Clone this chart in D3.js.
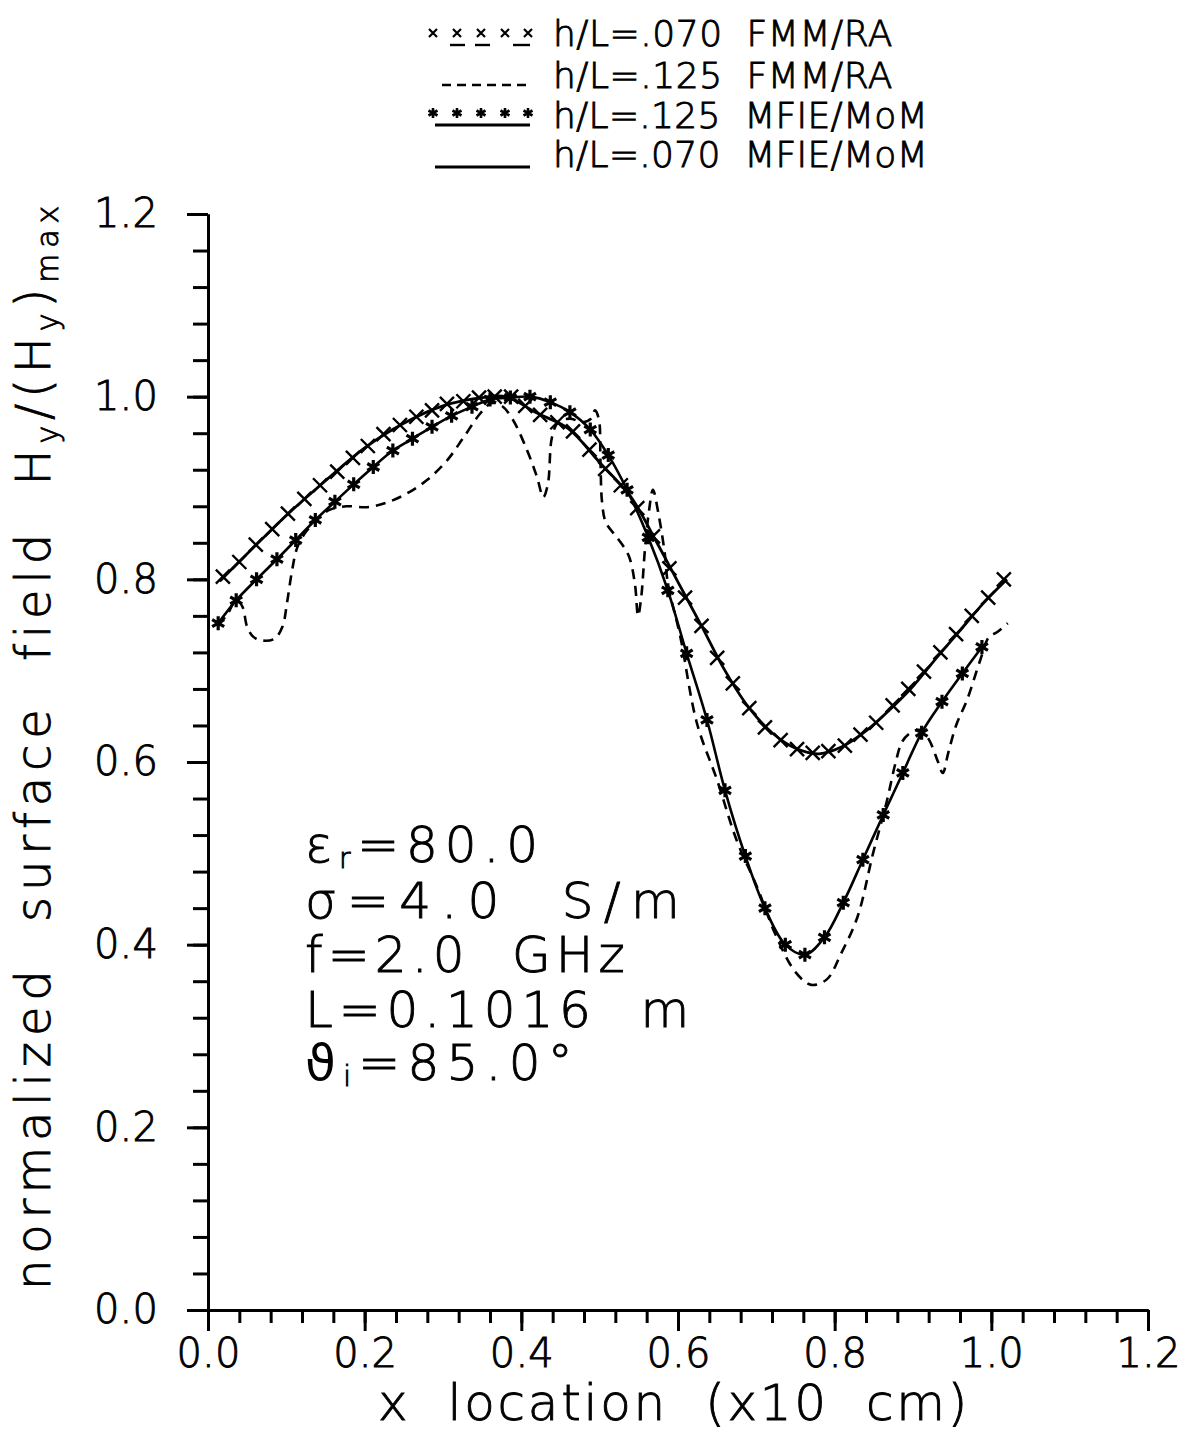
<!DOCTYPE html>
<html>
<head>
<meta charset="utf-8">
<script src="https://cdn.jsdelivr.net/npm/d3@7"></script>
<style>
body { margin: 0; background: #fff; }
text { font-family: "DejaVu Sans", sans-serif; font-weight: 200; fill: #000; stroke: #000; stroke-width: 0.9px; }
</style>
</head>
<body>
<svg id="chart" width="1184" height="1433"></svg>
<script>
// --- data ---
var xTicks = [0.0, 0.2, 0.4, 0.6, 0.8, 1.0, 1.2];
var yTicks = [0.0, 0.2, 0.4, 0.6, 0.8, 1.0, 1.2];

// h/L=.070 FMM/RA (x markers)
var fmm070 = [
    [0.019,0.803],[0.040,0.819],[0.061,0.838],[0.082,0.855],[0.102,0.872],[0.123,0.888],
    [0.143,0.903],[0.165,0.918],[0.185,0.933],[0.204,0.946],[0.224,0.959],[0.245,0.969],
    [0.266,0.978],[0.286,0.985],[0.305,0.992],[0.326,0.995],[0.346,0.999],[0.366,1.000],
    [0.387,1.000],[0.405,0.990],[0.424,0.980],[0.446,0.972],[0.466,0.962],[0.487,0.942],
    [0.507,0.921],[0.527,0.903],[0.548,0.878],[0.568,0.847],[0.589,0.812],[0.609,0.780],
    [0.630,0.749],[0.650,0.714],[0.670,0.686],[0.691,0.659],[0.711,0.638],[0.731,0.624],
    [0.752,0.614],[0.772,0.610],[0.792,0.612],[0.813,0.618],[0.833,0.630],[0.853,0.643],
    [0.874,0.662],[0.894,0.680],[0.914,0.699],[0.935,0.720],[0.955,0.740],[0.975,0.760],
    [0.996,0.780],[1.016,0.800]
];
// h/L=.070 MFIE/MoM (solid)
var mom070 = [
    [0.015,0.798],[0.050,0.828],[0.100,0.870],[0.150,0.908],[0.200,0.944],[0.250,0.971],
    [0.300,0.990],[0.350,0.999],[0.380,1.000],[0.420,0.982],[0.460,0.965],[0.500,0.928],
    [0.540,0.890],[0.570,0.845],[0.600,0.797],[0.630,0.749],[0.660,0.700],[0.690,0.660],
    [0.720,0.632],[0.750,0.615],[0.780,0.609],[0.810,0.617],[0.840,0.634],[0.870,0.657],
    [0.900,0.683],[0.930,0.714],[0.960,0.744],[0.990,0.774],[1.020,0.800]
];
// h/L=.125 MFIE/MoM (solid + asterisks)
var mom125 = [
    [0.013,0.752],[0.036,0.777],[0.062,0.800],[0.088,0.822],[0.112,0.843],[0.137,0.865],
    [0.162,0.885],[0.186,0.904],[0.211,0.923],[0.236,0.941],[0.261,0.954],[0.286,0.967],
    [0.311,0.979],[0.337,0.989],[0.360,0.997],[0.386,0.999],[0.411,1.000],[0.437,0.994],
    [0.462,0.983],[0.488,0.964],[0.511,0.936],[0.535,0.898],[0.562,0.846],[0.587,0.788],
    [0.611,0.719],[0.637,0.646],[0.660,0.569],[0.686,0.497],[0.711,0.440],[0.737,0.400],
    [0.762,0.389],[0.787,0.408],[0.811,0.446],[0.836,0.493],[0.862,0.542],[0.887,0.588],
    [0.911,0.632],[0.937,0.666],[0.963,0.697],[0.988,0.726]
];
// h/L=.125 FMM/RA (dashed)
var fmm125 = [
    [0.013,0.750],[0.025,0.762],[0.036,0.778],[0.044,0.770],[0.050,0.748],[0.058,0.737],
    [0.069,0.733],[0.085,0.735],[0.095,0.748],[0.101,0.775],[0.107,0.808],[0.114,0.835],
    [0.125,0.852],[0.140,0.866],[0.155,0.876],[0.177,0.880],[0.203,0.879],[0.228,0.884],
    [0.254,0.894],[0.280,0.909],[0.305,0.930],[0.326,0.955],[0.347,0.981],[0.362,0.993],
    [0.375,0.990],[0.389,0.975],[0.407,0.942],[0.420,0.912],[0.428,0.890],[0.434,0.905],
    [0.439,0.955],[0.447,0.972],[0.462,0.976],[0.478,0.972],[0.489,0.976],[0.494,0.985],
    [0.499,0.975],[0.501,0.930],[0.503,0.885],[0.508,0.862],[0.522,0.846],[0.537,0.826],
    [0.545,0.795],[0.549,0.760],[0.553,0.780],[0.558,0.835],[0.563,0.875],[0.568,0.898],
    [0.575,0.872],[0.583,0.829],[0.587,0.796],[0.603,0.737],[0.624,0.643],[0.650,0.580],
    [0.675,0.514],[0.701,0.463],[0.725,0.410],[0.750,0.370],[0.770,0.356],[0.790,0.362],
    [0.808,0.390],[0.829,0.430],[0.849,0.500],[0.866,0.555],[0.878,0.600],[0.886,0.622],
    [0.897,0.632],[0.909,0.635],[0.920,0.625],[0.932,0.600],[0.938,0.588],[0.945,0.610],
    [0.955,0.640],[0.969,0.668],[0.986,0.712],[0.997,0.737],[1.007,0.742],[1.021,0.752]
];

var legendRows = ['h/L=.070  FMM/RA', 'h/L=.125  FMM/RA', 'h/L=.125  MFIE/MoM', 'h/L=.070  MFIE/MoM'];

// --- drawing ---
var svg = d3.select('#chart');
var x = d3.scaleLinear().domain([0, 1.2]).range([208, 1148]);
var y = d3.scaleLinear().domain([0, 1.2]).range([1310, 214]);

var minorX = d3.range(0, 31).map(function (i) { return i * 0.04; });
var minorY = minorX;

// letter-spacing so a text spans a given width
function fit(sel, w) {
    var n = sel.text().length;
    var cur = sel.node().getComputedTextLength();
    sel.attr('letter-spacing', ((w - cur) / n).toFixed(2));
    return sel;
}

function styleAxis(g) {
    g.selectAll('.domain').attr('stroke', '#000').attr('stroke-width', 3);
    g.selectAll('.tick line').attr('stroke', '#000').attr('stroke-width', 3);
    g.selectAll('text').attr('font-size', 40).attr('fill', '#000');
    g.attr('font-family', null).attr('font-size', null);
}

// minor ticks first
svg.append('g').attr('transform', 'translate(208,0)')
    .call(d3.axisLeft(y).tickValues(minorY).tickSize(15).tickSizeOuter(0).tickFormat(''))
    .call(styleAxis);
svg.append('g').attr('transform', 'translate(0,1310)')
    .call(d3.axisBottom(x).tickValues(minorX).tickSize(13).tickSizeOuter(0).tickFormat(''))
    .call(styleAxis);

var yAxis = svg.append('g').attr('transform', 'translate(208,0)')
    .call(d3.axisLeft(y).tickValues(yTicks).tickSize(21).tickSizeOuter(0).tickPadding(29).tickFormat(d3.format('.1f')))
    .call(styleAxis);
var xAxis = svg.append('g').attr('transform', 'translate(0,1310)')
    .call(d3.axisBottom(x).tickValues(xTicks).tickSize(21).tickSizeOuter(0).tickPadding(8).tickFormat(d3.format('.1f')))
    .call(styleAxis);
xAxis.selectAll('.tick text').each(function () { fit(d3.select(this), 64); });
yAxis.selectAll('.tick text').each(function () { fit(d3.select(this), 64); });

// curves
var line = d3.line().x(function (d) { return x(d[0]); }).y(function (d) { return y(d[1]); })
    .curve(d3.curveCatmullRom.alpha(0.5));

svg.append('path').datum(fmm125).attr('d', line)
    .attr('fill', 'none').attr('stroke', '#000').attr('stroke-width', 2.6).attr('stroke-dasharray', '10,7');
svg.append('path').datum(mom070).attr('d', line)
    .attr('fill', 'none').attr('stroke', '#000').attr('stroke-width', 2.8);
svg.append('path').datum(mom125).attr('d', line)
    .attr('fill', 'none').attr('stroke', '#000').attr('stroke-width', 2.6);

var crossPath = 'M-7,-7L7,7M-7,7L7,-7';
var starPath = 'M0,-7L0,7M-6,-3.5L6,3.5M-6,3.5L6,-3.5';

svg.append('g').selectAll('path').data(fmm070).join('path')
    .attr('transform', function (d) { return 'translate(' + x(d[0]) + ',' + y(d[1]) + ')'; })
    .attr('d', crossPath).attr('stroke', '#000').attr('stroke-width', 2.4).attr('fill', 'none');
svg.append('g').selectAll('path').data(mom125).join('path')
    .attr('transform', function (d) { return 'translate(' + x(d[0]) + ',' + y(d[1]) + ')'; })
    .attr('d', starPath).attr('stroke', '#000').attr('stroke-width', 3.2).attr('fill', 'none');

// legend
var legend = svg.append('g');
var legendY = [46, 88, 128, 167];
var legendW = [340, 340, 375, 375];
legend.selectAll('text').data(legendRows).join('text')
    .attr('x', 553).attr('y', function (d, i) { return legendY[i]; })
    .attr('font-size', 36)
    .style('white-space', 'pre')
    .text(function (d) { return d; })
    .each(function (d, i) { fit(d3.select(this), legendW[i]); });

var legX = [433, 457, 481, 505, 528];
legend.selectAll('.lx').data(legX).join('path').attr('class', 'lx')
    .attr('transform', function (d) { return 'translate(' + d + ',33)'; })
    .attr('d', 'M-4,-4L4,4M-4,4L4,-4').attr('stroke', '#000').attr('stroke-width', 2.2);
legend.selectAll('.lu').data([[450, 465], [475, 490], [513, 530]]).join('line').attr('class', 'lu')
    .attr('x1', function (d) { return d[0]; }).attr('x2', function (d) { return d[1]; })
    .attr('y1', 45).attr('y2', 45).attr('stroke', '#000').attr('stroke-width', 2.4);
legend.append('line').attr('x1', 442).attr('x2', 530).attr('y1', 85).attr('y2', 85)
    .attr('stroke', '#000').attr('stroke-width', 2.6).attr('stroke-dasharray', '9,6');
legend.selectAll('.ls').data(legX).join('path').attr('class', 'ls')
    .attr('transform', function (d) { return 'translate(' + d + ',113)'; })
    .attr('d', 'M0,-5L0,5M-4.5,-2.5L4.5,2.5M-4.5,2.5L4.5,-2.5').attr('stroke', '#000').attr('stroke-width', 2.6);
legend.append('line').attr('x1', 435).attr('x2', 530).attr('y1', 125).attr('y2', 125)
    .attr('stroke', '#000').attr('stroke-width', 2.8);
legend.append('line').attr('x1', 435).attr('x2', 530).attr('y1', 167).attr('y2', 167)
    .attr('stroke', '#000').attr('stroke-width', 2.8);

// axis titles
var xt = svg.append('text').attr('x', 378).attr('y', 1420).attr('font-size', 50)
    .style('white-space', 'pre').text('x  location  (x10  cm)');
fit(xt, 592);

var yt = svg.append('text').attr('transform', 'translate(50,1290) rotate(-90)')
    .attr('font-size', 48).style('white-space', 'pre');
yt.append('tspan').text('normalized  surface  field  H');
yt.append('tspan').attr('font-size', 30).attr('dy', 8).text('y');
yt.append('tspan').attr('dy', -8).text('/(H');
yt.append('tspan').attr('font-size', 30).attr('dy', 8).text('y');
yt.append('tspan').attr('dy', -8).text(')');
yt.append('tspan').attr('font-size', 30).attr('dy', 8).text('max');
fit(yt, 1090);

// parameter block
var params = [
    {main: 'ε', sub: 'r', rest: '=80.0', w: 240},
    {main: 'σ=4.0  S/m', sub: null, rest: '', w: 385},
    {main: 'f=2.0  GHz', sub: null, rest: '', w: 325},
    {main: 'L=0.1016  m', sub: null, rest: '', w: 390},
    {main: 'ϑ', sub: 'i', rest: '=85.0°', w: 275}
];
var paramY = [862, 918, 972, 1027, 1080];
params.forEach(function (p, i) {
    var t = svg.append('text').attr('x', 305).attr('y', paramY[i]).attr('font-size', 50).style('white-space', 'pre');
    var head = t.append('tspan').text(p.main);
    if (p.main === 'ϑ') head.style('font-weight', 400).style('stroke-width', 0);
    if (p.sub) {
        t.append('tspan').attr('font-size', 28).attr('dy', 6).text(p.sub);
        t.append('tspan').attr('dy', -6).text(p.rest);
    }
    fit(t, p.w);
});
</script>
</body>
</html>
